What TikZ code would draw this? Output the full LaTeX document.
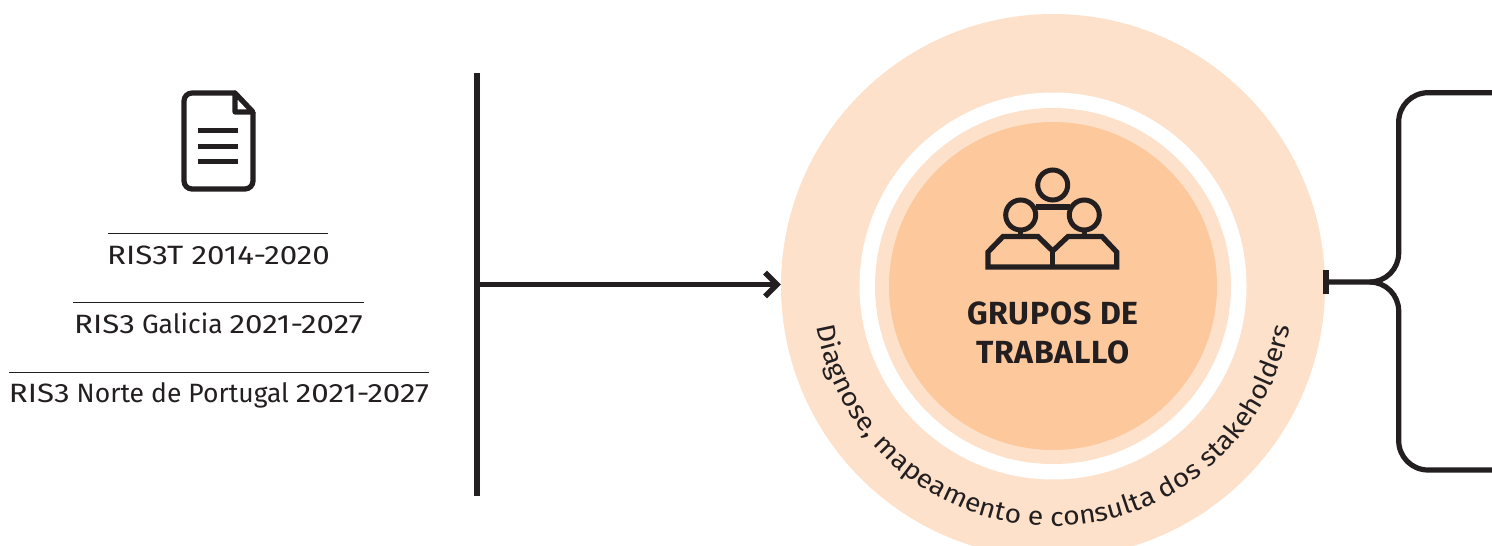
\documentclass[tikz,border=0pt]{standalone}
\usepackage{fontspec}
\setmainfont{Fira Sans}
\newfontfamily\digitfont{Fira Sans}[FakeStretch=1.18]
\newfontfamily\titlefont{Fira Sans}[LetterSpace=2.6,BoldFont={Fira Sans Bold}]
\newfontfamily\arcfont{Fira Sans}[FakeStretch=1.09]
\newcommand{\dg}[1]{{\digitfont #1}}
\usetikzlibrary{decorations.text,calc}
\definecolor{ink}{HTML}{231F20}
\definecolor{peachlight}{HTML}{FEE1CA}
\definecolor{peachdark}{HTML}{FDC89C}
\tikzset{
  ln/.style={draw=ink,line width=5.2pt,line join=miter},
  icon/.style={draw=ink,line width=5.2pt,line join=miter},
  disc/.style={circle,inner sep=0pt,minimum size=#1},
  rule/.style={draw=ink,line width=0.8pt},
  lab/.style={font=\fontsize{26.5}{30}\selectfont,text=ink,inner sep=0pt,anchor=base},
  ttl/.style={font=\titlefont\fontsize{32}{36}\selectfont\bfseries,text=ink,inner sep=0pt,anchor=base},
}
\begin{document}
\begin{tikzpicture}[x=1pt,y=-1pt]
\useasboundingbox (0,0) rectangle (1492,546);
\clip (0,0) rectangle (1492,546);
% circles
\node[disc=544pt,fill=peachlight] (outer) at (1053,286) {};
\node[disc=387pt,fill=white] (ring) at (1053,286) {};
\node[disc=356pt,fill=peachlight] (mid) at (1053,286) {};
\node[disc=328pt,fill=peachdark] (inner) at (1053,286) {};
\node[ttl] (t1) at (1053,324) {GRUPOS DE};
\node[ttl] (t2) at (1053,363) {TRABALLO};
% curved text
\path[postaction={decorate,decoration={text along path,text align=center,
  text={|\arcfont\fontsize{26}{30}\selectfont\color{ink}|Diagnose, mapeamento e consulta dos stakeholders}}}]
  (1053,286) ++(188:240pt) arc[start angle=188,end angle=352,radius=240pt];
% document icon
\draw[icon,rounded corners=8pt] (236,93) -- (184,93) -- (184,189) -- (253,189) -- (253,112);
\draw[icon,line join=round] (235,93) -- (253,112) -- (235,112) -- cycle;
\draw[draw=ink,line width=5pt] (198,130) -- (238,130) (198,146) -- (238,146) (198,161) -- (238,161);
% labels
\node[lab] (a) at (218.5,264) {\dg{RIS3T 2014-2020}};
\node[lab] (b) at (218.5,333) {\dg{RIS3} Galicia \dg{2021-2027}};
\node[lab] (c) at (219,402) {\dg{RIS3} Norte de Portugal \dg{2021-2027}};
\draw[rule] (108,233) -- (328,233);
\draw[rule] (73,302) -- (364,302);
\draw[rule] (9,372) -- (429,372);
% spine and arrow
\coordinate (s1) at (477,73);
\coordinate (s2) at (477,496);
\coordinate (s3) at (477,284.5);
\coordinate (tip) at (777,284.5);
\draw[ln] (s1) -- (s2);
\draw[ln] (s3) -- (tip);
\draw[ln,line width=5.5pt] (765,272.5) -- (tip) -- (765,296.5);
% people icon
\node[disc=30pt,draw=ink,line width=5pt] (h1) at (1052.7,185) {};
\node[disc=30pt,draw=ink,line width=5pt] (h2) at (1020.7,215) {};
\node[disc=30pt,draw=ink,line width=5pt] (h3) at (1084.3,215) {};
\draw[icon] (h2) ++(15,-8) -- (1070,207);
\draw[icon] (1020.7,231) -- (1020.7,237);
\draw[icon] (1084.3,231) -- (1084.3,237);
\draw[icon] (988,267) -- (988,252) -- (1003,236.5) -- (1038,236.5) -- (1052.7,251) -- (1068,236.5) -- (1102,236.5) -- (1116.7,252) -- (1116.7,267) -- cycle;
\draw[icon] (1052.7,251) -- (1052.7,269);
% brace
\coordinate (bt) at (1492,92.7);
\coordinate (bb) at (1492,470);
\coordinate (bar) at (1326,282);
\draw[ln] (bt) -- (1428,92.7) arc[start angle=90,end angle=180,radius=29.3pt] -- (1398.7,253) arc[start angle=0,end angle=-90,radius=29pt] -- (bar);
\draw[ln] (bb) -- (1428,470) arc[start angle=270,end angle=180,radius=29.3pt] -- (1398.7,311) arc[start angle=0,end angle=90,radius=29pt];
\draw[draw=ink,line width=6pt] (bar) ++(0,-12) -- ++(0,24);
\end{tikzpicture}
\end{document}
